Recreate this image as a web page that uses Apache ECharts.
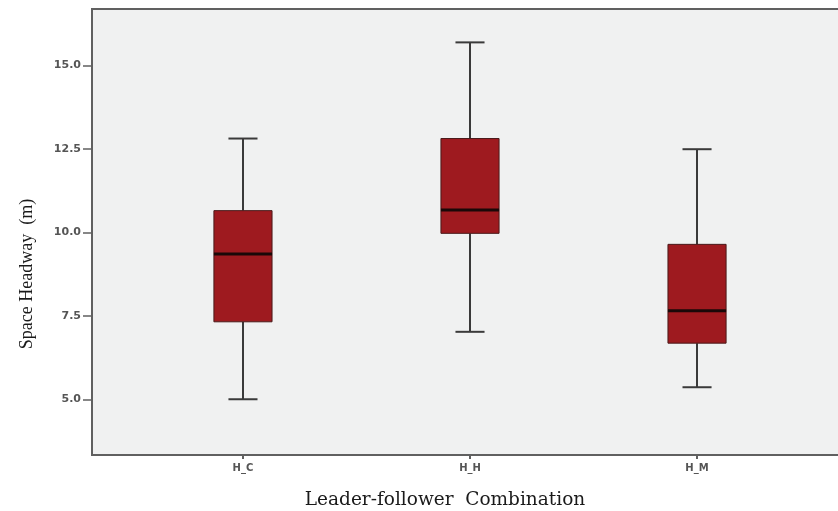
<!DOCTYPE html>
<html>
<head>
<meta charset="utf-8">
<script src="https://cdn.jsdelivr.net/npm/echarts@6/dist/echarts.min.js"></script>
<style>
html,body{margin:0;padding:0;background:#fff;}
#chart{width:838px;height:511px;}
</style>
</head>
<body>
<div id="chart"></div>
<script>
// box statistics per leader-follower combination
var categories = ['H_C', 'H_H', 'H_M'];
var whiskerLow = [5.00, 7.02, 5.36];
var q1 = [7.32, 9.97, 6.68];
var median = [9.35, 10.67, 7.65];
var q3 = [10.65, 12.81, 9.64];
var whiskerHigh = [12.81, 15.69, 12.49];
var yTicks = [5.0, 7.5, 10.0, 12.5, 15.0];

var myChart = echarts.init(document.getElementById('chart'));

var data = [];
for (var i = 0; i < categories.length; i++) {
	data.push([i, whiskerLow[i], q1[i], median[i], q3[i], whiskerHigh[i]]);
}

// SPSS style box: half width whisker caps, thick median
function renderBox(params, api) {
	var x = api.value(0);
	var unit = api.size([1, 0])[0];
	var half = unit * 0.128;
	var cap = half / 2;
	var pLow = api.coord([x, api.value(1)]);
	var pQ1 = api.coord([x, api.value(2)]);
	var pMed = api.coord([x, api.value(3)]);
	var pQ3 = api.coord([x, api.value(4)]);
	var pHigh = api.coord([x, api.value(5)]);
	var cx = pLow[0];
	var whiskerStyle = {stroke: '#3a3a3a', lineWidth: 2};
	return {
		type: 'group',
		children: [
			{type: 'line', shape: {x1: cx, y1: pHigh[1], x2: cx, y2: pQ3[1]}, style: whiskerStyle},
			{type: 'line', shape: {x1: cx, y1: pQ1[1], x2: cx, y2: pLow[1]}, style: whiskerStyle},
			{type: 'line', shape: {x1: cx - cap, y1: pHigh[1], x2: cx + cap, y2: pHigh[1]}, style: whiskerStyle},
			{type: 'line', shape: {x1: cx - cap, y1: pLow[1], x2: cx + cap, y2: pLow[1]}, style: whiskerStyle},
			{type: 'rect', shape: {x: cx - half, y: pQ3[1], width: half * 2, height: pQ1[1] - pQ3[1]},
				style: {fill: '#9e1a1f', stroke: '#4a1a1a', lineWidth: 1}},
			{type: 'line', shape: {x1: cx - half, y1: pMed[1], x2: cx + half, y2: pMed[1]},
				style: {stroke: '#1a0808', lineWidth: 3}}
		]
	};
}

var option = {
	backgroundColor: '#ffffff',
	animation: false,
	grid: {
		left: 92, top: 9, width: 756, bottom: 56,
		outerBoundsMode: 'none',
		show: true,
		backgroundColor: '#f0f1f1',
		borderColor: '#606060',
		borderWidth: 2
	},
	xAxis: {
		type: 'value',
		min: -0.665,
		max: 2.665,
		name: 'Leader-follower  Combination',
		nameLocation: 'middle',
		nameGap: 36,
		nameTextStyle: {fontFamily: 'DejaVu Serif', fontSize: 18.5, color: '#1a1a1a', padding: [0, 50, 0, 0]},
		axisLine: {show: true, onZero: false, lineStyle: {color: '#606060', width: 2}},
		axisTick: {show: true, length: 4, customValues: [0, 1, 2], lineStyle: {color: '#606060', width: 2}},
		axisLabel: {
			customValues: [0, 1, 2],
			formatter: function (v) { return categories[Math.round(v)]; },
			fontFamily: 'DejaVu Sans', fontWeight: 'bold', fontSize: 10, color: '#555', margin: 8
		},
		splitLine: {show: false}
	},
	yAxis: {
		type: 'value',
		min: 3.33,
		max: 16.69,
		name: 'Space Headway  (m)',
		nameLocation: 'middle',
		nameGap: 56,
		nameRotate: 90,
		nameTextStyle: {fontFamily: 'Liberation Serif', fontSize: 18, color: '#1a1a1a', padding: [0, 84, 0, 0]},
		axisLine: {show: true, onZero: false, lineStyle: {color: '#606060', width: 2}},
		axisTick: {show: true, length: 9, customValues: yTicks, lineStyle: {color: '#606060', width: 1.5}},
		axisLabel: {
			customValues: yTicks,
			formatter: function (v) { return v.toFixed(1); },
			fontFamily: 'DejaVu Sans', fontWeight: 'bold', fontSize: 11, color: '#555', margin: 11
		},
		splitLine: {show: false}
	},
	series: [{
		type: 'custom',
		renderItem: renderBox,
		encode: {x: 0, y: [1, 2, 3, 4, 5]},
		data: data
	}]
};

myChart.setOption(option);
</script>
</body>
</html>
